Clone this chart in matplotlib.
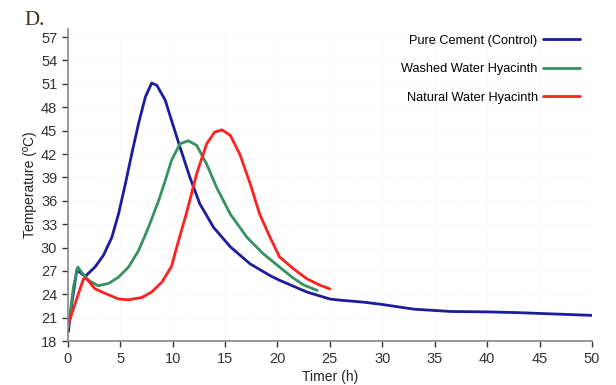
"""Hydration temperature curves, panel D (cement vs water hyacinth blends)."""
import matplotlib

matplotlib.use("Agg")
import matplotlib.pyplot as plt  # noqa: E402

plt.rcParams["font.family"] = ["Liberation Sans", "DejaVu Sans"]

# values
pure_t = [0.06, 0.38, 0.86, 1.18, 1.66, 2.6, 3.4, 4.2, 4.84, 5.5, 6.1, 6.75, 7.4, 8.0,
          8.5, 9.3, 9.9, 10.7, 11.65, 12.6, 13.9, 15.5, 17.4, 19.3, 20.2, 22.8, 25.0,
          26.0, 28.2, 30.0, 33.0, 36.5, 40.0, 43.0, 46.0, 50.0]
pure_y = [19.2, 22.8, 27.1, 26.8, 26.3, 27.5, 29.0, 31.3, 34.3, 38.2, 42.0, 45.9, 49.3,
          51.1, 50.8, 48.9, 46.3, 42.9, 39.0, 35.6, 32.6, 30.1, 27.9, 26.4, 25.8, 24.3,
          23.4, 23.25, 23.0, 22.7, 22.1, 21.8, 21.75, 21.65, 21.5, 21.3]

washed_t = [0.06, 0.54, 0.96, 1.34, 1.98, 2.9, 3.9, 4.84, 5.8, 6.75, 7.7, 8.66, 9.3,
            9.9, 10.7, 11.5, 12.3, 13.25, 14.2, 15.5, 17.1, 18.65, 20.2, 21.4, 22.5, 23.8]
washed_y = [19.8, 24.9, 27.5, 26.8, 25.8, 25.1, 25.4, 26.2, 27.5, 29.6, 32.6, 36.0, 38.6,
            41.2, 43.3, 43.7, 43.1, 40.7, 37.7, 34.3, 31.3, 29.2, 27.5, 26.2, 25.2, 24.5]

natural_t = [0.06, 0.7, 1.5, 1.8, 2.6, 3.6, 4.84, 5.8, 7.07, 8.0, 9.0, 9.9, 10.4, 11.3,
             12.3, 13.25, 14.0, 14.7, 15.5, 16.4, 17.4, 18.3, 19.3, 20.2, 21.5, 22.8,
             24.0, 25.0]
natural_y = [20.2, 22.8, 26.0, 26.0, 24.7, 24.1, 23.4, 23.3, 23.6, 24.3, 25.6, 27.6, 30.1,
             34.3, 39.5, 43.3, 44.8, 45.1, 44.4, 42.0, 38.2, 34.3, 31.3, 28.8, 27.3, 26.0,
             25.2, 24.7]

series = [
    ("Pure Cement (Control)", pure_t, pure_y, "#1c1c9e"),
    ("Washed Water Hyacinth", washed_t, washed_y, "#379262"),
    ("Natural Water Hyacinth", natural_t, natural_y, "#ff2020"),
]

x_ticks = list(range(0, 51, 5))
y_ticks = list(range(18, 58, 3))

fig = plt.figure(figsize=(6.16, 3.85), dpi=100)
ax = fig.add_axes([0.110, 0.114, 0.851, 0.810])

for label, t, y, color in series:
    ax.plot(t, y, color=color, lw=2.0, label=label,
            solid_capstyle="round", solid_joinstyle="round")

ax.set_xlim(0, 50)
ax.set_ylim(18, 58)
ax.set_xticks(x_ticks)
ax.set_yticks(y_ticks)
ax.tick_params(labelsize=10.5, colors="#333333", length=4, width=1, direction="out")
for s in ("top", "right"):
    ax.spines[s].set_visible(False)
for s in ("left", "bottom"):
    ax.spines[s].set_color("#888888")
    ax.spines[s].set_linewidth(1.2)
ax.grid(True, color="#f2f2f2", lw=0.6, ls=":")

ax.set_xlabel("Timer (h)", fontsize=10, color="#222222", labelpad=3)
ax.set_ylabel("Temperature (ºC)", fontsize=10, color="#222222", labelpad=3)

fig.text(0.040, 0.935, "D.", fontsize=15, family=["Liberation Serif", "DejaVu Serif"],
         color="#3b2f1e")

ax.legend(loc="upper right", bbox_to_anchor=(0.96, 0.94), bbox_transform=fig.transFigure,
          frameon=False, markerfirst=False, fontsize=9.2, handlelength=2.9,
          labelspacing=1.3, handletextpad=0.4)

fig.savefig("out.png", dpi=100)
